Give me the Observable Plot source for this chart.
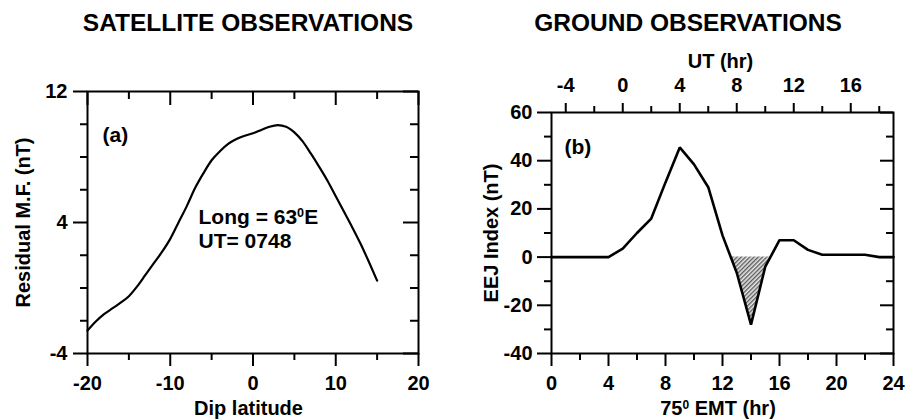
<!DOCTYPE html>
<html>
<head>
<meta charset="utf-8">
<script src="https://cdn.jsdelivr.net/npm/d3@7"></script>
<script src="https://cdn.jsdelivr.net/npm/@observablehq/plot@0.6"></script>
<style>
  body { margin: 0; background: #fff; }
  #wrap { position: relative; width: 906px; height: 419px; overflow: hidden; background: #fff; }
  #wrap svg { position: absolute; top: 0; }
  #wrap svg text { font-weight: bold; }
</style>
</head>
<body>
<div id="wrap"></div>
<script>
// ---------- Panel (a): satellite observations ----------
const dipLatitude = [-20,-19,-18,-17,-16,-15,-14,-13,-12,-11,-10,-9,-8,-7,-6,-5,-4,-3,-2,-1,0,1,2,3,4,5,6,7,8,9,10,11,12,13,14,15];
const residualMF  = [-2.6,-2.05,-1.6,-1.25,-0.9,-0.5,0.1,0.8,1.5,2.2,3.0,4.0,5.0,6.1,7.0,7.8,8.35,8.8,9.1,9.3,9.45,9.65,9.85,9.95,9.85,9.5,8.95,8.2,7.4,6.55,5.6,4.65,3.7,2.7,1.6,0.45];
const latTicksMajor = [-20,-10,0,10,20];
const latTicksMinor = [-15,-5,5,15];
const mfTicksMajor = [-4,4,12];
const mfTicksMinor = [-2,0,2,6,8,10];

// ---------- Panel (b): ground observations ----------
const emtHour  = [0,1,2,3,4,5,6,7,8,9,10,11,12,13,14,15,16,17,18,19,20,21,22,23,24];
const eejIndex = [0,0,0,0,0,3.5,10,16,31,45.5,38.5,29,9,-6.5,-28,-4,7,7,3,1,1,1,1,0,0];
const emtTicksMajor = [0,4,8,12,16,20,24];
const emtTicksMinor = [2,6,10,14,18,22];
const eejTicksMajor = [-40,-20,0,20,40,60];
const eejTicksMinor = [-30,-10,10,30,50];
const utTicksMajor = [-4,0,4,8,12,16];
const utTicksMinor = [-2,2,6,10,14,18];
const utToEmt = 5; // 75°E mean time = UT + 5 h

const FONT = "'Liberation Sans', Arial, Helvetica, sans-serif";
const fmt = d => String(d);
const SUP = "\u2070"; // marks a superscript zero in labels

// negative part of a piecewise-linear series (with its zero crossings)
function negativePart(xs, ys) {
  const out = [];
  for (let i = 0; i < xs.length; i++) {
    if (i > 0 && ys[i-1] !== 0 && ys[i] !== 0 && (ys[i-1] < 0) !== (ys[i] < 0)) {
      const t = ys[i-1] / (ys[i-1] - ys[i]);
      out.push({x: xs[i-1] + t * (xs[i] - xs[i-1]), y: 0});
    }
    out.push({x: xs[i], y: Math.min(0, ys[i])});
  }
  return out;
}

// ----- left plot -----
const L = {w: 450, h: 419, ml: 87, mr: 32, mt: 91, mb: 66};
const LfW = L.w - L.ml - L.mr, LfH = L.h - L.mt - L.mb;
const satData = dipLatitude.map((d, i) => ({lat: d, mf: residualMF[i]}));

const left = Plot.plot({
  width: L.w, height: L.h,
  marginLeft: L.ml, marginRight: L.mr, marginTop: L.mt, marginBottom: L.mb,
  x: {domain: [-20, 20]},
  y: {domain: [-4, 12]},
  style: {fontFamily: FONT, fontSize: "20px", color: "#000", background: "transparent", overflow: "visible"},
  marks: [
    Plot.axisX(latTicksMajor, {anchor: "bottom", tickSize: 13, tickPadding: 9, strokeWidth: 2, tickFormat: fmt, label: null, fontSize: 20}),
    Plot.axisX(latTicksMinor, {anchor: "bottom", tickSize: 7, text: null, strokeWidth: 2, label: null}),
    Plot.axisY(mfTicksMajor, {anchor: "left", tickSize: 14, tickPadding: 6, strokeWidth: 2, tickFormat: fmt, label: null, fontSize: 20}),
    Plot.axisY(mfTicksMinor, {anchor: "left", tickSize: 7, text: null, strokeWidth: 2, label: null}),
    // inward mirror ticks (top / right)
    Plot.tickX(latTicksMajor, {x: d => d, insetBottom: LfH - 14, strokeWidth: 2}),
    Plot.tickX(latTicksMinor, {x: d => d, insetBottom: LfH - 8, strokeWidth: 2}),
    Plot.tickY(mfTicksMajor, {y: d => d, insetLeft: LfW - 15, strokeWidth: 2}),
    Plot.tickY(mfTicksMinor, {y: d => d, insetLeft: LfW - 8, strokeWidth: 2}),
    Plot.frame({strokeWidth: 2}),
    Plot.line(satData, {x: "lat", y: "mf", curve: "monotone-x", strokeWidth: 2.2}),
    // texts
    Plot.text(["SATELLITE OBSERVATIONS"], {frameAnchor: "top", dx: -5, dy: -68, fontSize: 24.5, lineAnchor: "middle"}),
    Plot.text(["Dip latitude"], {frameAnchor: "bottom", dx: -4.5, dy: 55.5, fontSize: 20, lineAnchor: "middle"}),
    Plot.text(["Residual M.F. (nT)"], {frameAnchor: "left", dx: -63.5, rotate: -90, fontSize: 20, textAnchor: "middle", lineAnchor: "middle"}),
    Plot.text(["(a)"], {frameAnchor: "top-left", dx: 15, dy: 44, fontSize: 21, textAnchor: "start", lineAnchor: "middle"}),
    Plot.text(["Long = 63" + SUP + "E"], {frameAnchor: "top-left", dx: 111, dy: 126, fontSize: 21, textAnchor: "start", lineAnchor: "middle"}),
    Plot.text(["UT= 0748"], {frameAnchor: "top-left", dx: 111, dy: 150, fontSize: 21, textAnchor: "start", lineAnchor: "middle"})
  ]
});
left.style.left = "0px";

// ----- right plot -----
const R = {w: 456, h: 419, ml: 101, mr: 13, mt: 112, mb: 66};
const RfW = R.w - R.ml - R.mr, RfH = R.h - R.mt - R.mb;
const groundData = emtHour.map((d, i) => ({t: d, v: eejIndex[i]}));
const shaded = negativePart(emtHour, eejIndex);

const right = Plot.plot({
  width: R.w, height: R.h,
  marginLeft: R.ml, marginRight: R.mr, marginTop: R.mt, marginBottom: R.mb,
  x: {domain: [0, 24]},
  y: {domain: [-40, 60]},
  style: {fontFamily: FONT, fontSize: "20px", color: "#000", background: "transparent", overflow: "visible"},
  marks: [
    Plot.areaY(shaded, {x: "x", y1: 0, y2: "y", fill: "url(#hatch)"}),
    Plot.axisX(emtTicksMajor, {anchor: "bottom", tickSize: 13, tickPadding: 9, strokeWidth: 2, tickFormat: fmt, label: null, fontSize: 20}),
    Plot.axisX(emtTicksMinor, {anchor: "bottom", tickSize: 7, text: null, strokeWidth: 2, label: null}),
    Plot.axisX(utTicksMajor.map(u => u + utToEmt), {anchor: "top", tickSize: 10, tickPadding: 11, strokeWidth: 2, tickFormat: d => String(d - utToEmt), label: null, fontSize: 20}),
    Plot.axisX(utTicksMinor.map(u => u + utToEmt), {anchor: "top", tickSize: 7, text: null, strokeWidth: 2, label: null}),
    Plot.axisY(eejTicksMajor, {anchor: "left", tickSize: 14, tickPadding: 5, strokeWidth: 2, tickFormat: fmt, label: null, fontSize: 20}),
    Plot.axisY(eejTicksMinor, {anchor: "left", tickSize: 7, text: null, strokeWidth: 2, label: null}),
    Plot.tickY(eejTicksMajor, {y: d => d, insetLeft: RfW - 13, strokeWidth: 2}),
    Plot.tickY(eejTicksMinor, {y: d => d, insetLeft: RfW - 7, strokeWidth: 2}),
    Plot.frame({strokeWidth: 2}),
    Plot.line(groundData, {x: "t", y: "v", strokeWidth: 2.6, strokeLinejoin: "miter"}),
    Plot.text(["GROUND OBSERVATIONS"], {frameAnchor: "top", dx: -34.5, dy: -89, fontSize: 24.5, lineAnchor: "middle"}),
    Plot.text(["UT (hr)"], {frameAnchor: "top", dx: -2, dy: -50.5, fontSize: 20, lineAnchor: "middle"}),
    Plot.text(["75" + SUP + " EMT (hr)"], {frameAnchor: "bottom", dx: -4.5, dy: 55.5, fontSize: 20, lineAnchor: "middle"}),
    Plot.text(["EEJ Index (nT)"], {frameAnchor: "left", dx: -60, rotate: -90, fontSize: 20, textAnchor: "middle", lineAnchor: "middle"}),
    Plot.text(["(b)"], {frameAnchor: "top-left", dx: 13, dy: 34.5, fontSize: 21, textAnchor: "start", lineAnchor: "middle"})
  ]
});
right.style.left = "450px";

// hatch pattern for the negative (counter-electrojet) region
const defs = d3.select(right).insert("defs", ":first-child");
const pat = defs.append("pattern")
  .attr("id", "hatch").attr("patternUnits", "userSpaceOnUse")
  .attr("width", 3).attr("height", 3).attr("patternTransform", "rotate(45)");
pat.append("rect").attr("width", 3).attr("height", 3).attr("fill", "#e8e8e8");
pat.append("line").attr("x1", 0.75).attr("y1", 0).attr("x2", 0.75).attr("y2", 3)
  .attr("stroke", "#444").attr("stroke-width", 1.2);

// render the superscript zero as a small raised "0"
[left, right].forEach(svg => {
  d3.select(svg).selectAll("text").each(function() {
    const el = d3.select(this);
    const txt = this.textContent;
    if (!txt.includes(SUP)) return;
    const [a, b] = txt.split(SUP);
    el.text(null);
    el.append("tspan").text(a);
    el.append("tspan").attr("font-size", "0.6em").attr("dy", "-0.55em").text("0");
    el.append("tspan").attr("dy", "0.33em").text(b);
  });
});

document.getElementById("wrap").append(left, right);
</script>
</body>
</html>
